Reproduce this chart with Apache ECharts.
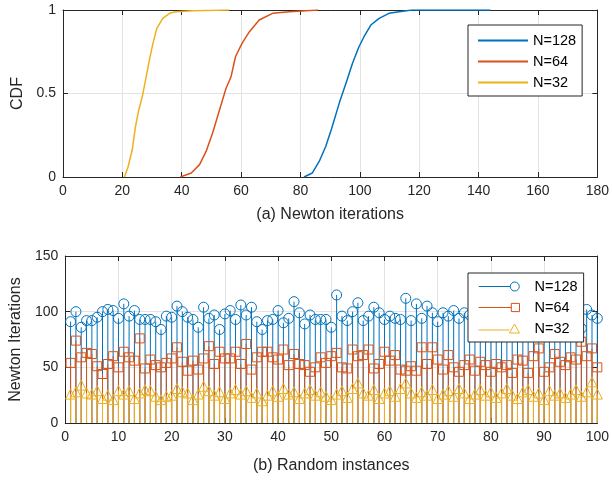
<!DOCTYPE html>
<html>
<head>
<meta charset="utf-8">
<script src="https://cdn.jsdelivr.net/npm/echarts@6/dist/echarts.min.js"></script>
<style>
  html, body { margin: 0; padding: 0; background: #fff; }
  #chart { width: 612px; height: 480px; }
</style>
</head>
<body>
<div id="chart"></div>
<script>
// ---- (a) empirical CDF of Newton iteration counts ----
const cdf128X = [81.2, 84, 86.3, 88.5, 90.5, 93.2, 95.3, 97.5, 99.7, 101.4, 103.7, 106.5, 109.8, 113.2, 117.6, 144];
const cdf128Y = [0, 0.024, 0.093, 0.183, 0.29, 0.45, 0.56, 0.68, 0.78, 0.84, 0.91, 0.95, 0.98, 0.99, 1, 1];
const cdf64X = [39.5, 43.2, 46, 48.2, 50.4, 52.7, 54.9, 56.6, 58.1, 60.3, 62.8, 66.1, 70.6, 76.2, 86];
const cdf64Y = [0, 0.024, 0.074, 0.153, 0.263, 0.40, 0.53, 0.60, 0.72, 0.80, 0.87, 0.94, 0.98, 0.99, 1];
const cdf32X = [20.7, 21.9, 23.3, 24.4, 25.5, 26.7, 27.8, 29.1, 30.3, 31.6, 33.6, 35.9, 38.1, 43.7, 56];
const cdf32Y = [0, 0.06, 0.16, 0.30, 0.40, 0.48, 0.58, 0.70, 0.80, 0.89, 0.95, 0.98, 0.99, 0.995, 1];

// ---- (b) Newton iterations per random instance ----
const instances = Array.from({ length: 100 }, (_, k) => k + 1);
const iters128 = [
  91, 100, 86, 92, 92, 95, 100, 102, 101, 94,
  107, 96, 101, 93, 93, 93, 91, 84, 96, 95,
  105, 100, 95, 93, 86, 104, 94, 97, 84, 98,
  101, 93, 106, 97, 104, 91, 84, 92, 93, 101,
  90, 94, 109, 99, 89, 97, 93, 93, 93, 86,
  115, 96, 92, 100, 108, 92, 96, 104, 99, 93,
  96, 94, 93, 112, 92, 107, 94, 105, 99, 91,
  99, 96, 101, 94, 99, 97, 93, 102, 95, 99,
  91, 104, 96, 93, 100, 98, 94, 106, 92, 97,
  101, 95, 99, 93, 96, 102, 85, 102, 97, 94
];
const iters64 = [
  54, 74, 59, 63, 62, 51, 44, 53, 60, 50,
  64, 59, 56, 76, 49, 57, 52, 50, 54, 58,
  68, 55, 47, 56, 48, 58, 69, 53, 64, 58,
  58, 64, 53, 71, 48, 59, 64, 64, 59, 57,
  66, 52, 62, 53, 52, 46, 50, 59, 54, 60,
  63, 50, 49, 66, 60, 61, 66, 49, 53, 64,
  56, 61, 48, 47, 51, 47, 68, 53, 68, 57,
  48, 61, 50, 46, 52, 57, 47, 55, 52, 46,
  53, 50, 52, 45, 57, 56, 45, 60, 67, 46,
  50, 62, 55, 52, 59, 57, 73, 60, 67, 50
];
const iters32 = [
  26, 28, 34, 27, 26, 29, 22, 25, 21, 29,
  26, 29, 22, 27, 30, 29, 24, 21, 24, 25,
  31, 28, 27, 21, 26, 33, 29, 25, 28, 22,
  27, 30, 26, 29, 23, 27, 20, 25, 29, 24,
  31, 26, 28, 22, 27, 30, 25, 28, 24, 21,
  26, 29, 23, 31, 36, 27, 25, 30, 22, 27,
  29, 24, 31, 36, 27, 23, 28, 25, 30, 22,
  26, 29, 24, 31, 27, 22, 26, 30, 25, 28,
  23, 27, 31, 25, 22, 28, 30, 24, 27, 21,
  29, 25, 27, 23, 26, 30, 24, 28, 37, 26
];

const names = ['N=128', 'N=64', 'N=32'];
const colors = ['#0072BD', '#D95319', '#EDB120'];

const FONT = '"Liberation Sans", Arial, Helvetica, sans-serif';
const AX = '#262626';
const GRIDC = '#e3e3e3';

function pairs(xs, ys) { return xs.map((x, k) => [x, ys[k]]); }

function mainX(gridIndex, max, interval, name, gap) {
  return {
    type: 'value', gridIndex, min: 0, max, interval, position: 'bottom',
    axisLine: { show: true, onZero: false, lineStyle: { color: AX, width: 1 } },
    axisTick: { show: true, inside: true, length: 5, lineStyle: { color: AX } },
    axisLabel: { color: AX, fontSize: 14, fontFamily: FONT, margin: 7 },
    splitLine: { show: true, lineStyle: { color: GRIDC, width: 1 } },
    name, nameLocation: 'middle', nameGap: gap,
    nameTextStyle: { color: AX, fontSize: 16, fontFamily: FONT }
  };
}
function boxX(gridIndex, max, interval) {
  return {
    type: 'value', gridIndex, min: 0, max, interval, position: 'top',
    axisLine: { show: true, onZero: false, lineStyle: { color: AX, width: 1 } },
    axisTick: { show: true, inside: true, length: 5, lineStyle: { color: AX } },
    axisLabel: { show: false }, splitLine: { show: false }
  };
}
function mainY(gridIndex, max, interval, name, gap) {
  return {
    type: 'value', gridIndex, min: 0, max, interval, position: 'left',
    axisLine: { show: true, onZero: false, lineStyle: { color: AX, width: 1 } },
    axisTick: { show: true, inside: true, length: 5, lineStyle: { color: AX } },
    axisLabel: { color: AX, fontSize: 14, fontFamily: FONT, margin: 7 },
    splitLine: { show: true, lineStyle: { color: GRIDC, width: 1 } },
    name, nameLocation: 'middle', nameGap: gap, nameRotate: 90,
    nameTextStyle: { color: AX, fontSize: 16, fontFamily: FONT }
  };
}
function boxY(gridIndex, max, interval) {
  return {
    type: 'value', gridIndex, min: 0, max, interval, position: 'right',
    axisLine: { show: true, onZero: false, lineStyle: { color: AX, width: 1 } },
    axisTick: { show: true, inside: true, length: 5, lineStyle: { color: AX } },
    axisLabel: { show: false }, splitLine: { show: false }
  };
}

// stem line from 0 up to each value
function stemSeries(name, color, values) {
  return {
    type: 'custom', name, xAxisIndex: 2, yAxisIndex: 2,
    data: instances.map((x, k) => [x, values[k]]),
    renderItem: function (params, api) {
      const p0 = api.coord([api.value(0), 0]);
      const p1 = api.coord([api.value(0), api.value(1)]);
      return {
        type: 'line',
        shape: { x1: p0[0], y1: p0[1], x2: p1[0], y2: p1[1] },
        style: { stroke: color, lineWidth: 1 }
      };
    },
    clip: false
  };
}
function markerSeries(name, color, values, symbol, size) {
  return {
    type: 'scatter', name, xAxisIndex: 2, yAxisIndex: 2,
    data: instances.map((x, k) => [x, values[k]]),
    symbol, symbolSize: size,
    itemStyle: { color: 'transparent', borderColor: color, borderWidth: 1, opacity: 1 },
    clip: false
  };
}

const stemIcons = [
  'path://M0 4.5 L31.5 4.5 M40.5 4.5 A4.5 4.5 0 1 1 31.5 4.5 A4.5 4.5 0 1 1 40.5 4.5',
  'path://M0 4.5 L32 4.5 M32 0.5 L40 0.5 L40 8.5 L32 8.5 Z',
  'path://M0 6 L31 6 M31 9 L36 0 L41 9 Z'
];

const option = {
  backgroundColor: '#fff',
  animation: false,
  textStyle: { fontFamily: FONT },
  grid: [
    { left: 63, top: 10, width: 536, height: 167 },
    { left: 63, top: 256, width: 536, height: 167 }
  ],
  xAxis: [
    mainX(0, 180, 20, '(a) Newton iterations', 30),
    boxX(0, 180, 20),
    mainX(1, 100, 10, '(b) Random instances', 35),
    boxX(1, 100, 10)
  ],
  yAxis: [
    mainY(0, 1, 0.5, 'CDF', 32),
    boxY(0, 1, 0.5),
    mainY(1, 150, 50, 'Newton Iterations', 32),
    boxY(1, 150, 50)
  ],
  legend: [
    {
      orient: 'vertical', left: 468, top: 25,
      padding: [5, 6, 3, 10], itemGap: 0, itemWidth: 50, itemHeight: 2,
      backgroundColor: '#fff', borderColor: AX, borderWidth: 1, borderRadius: 0,
      textStyle: { color: '#000', fontSize: 14.5, fontFamily: FONT, lineHeight: 21 },
      selectedMode: false,
      data: names.map((n, k) => ({ name: n, icon: 'rect', itemStyle: { color: colors[k], borderWidth: 0 } }))
    },
    {
      orient: 'vertical', left: 468, top: 273,
      padding: [3, 6, 3, 10], itemGap: 0, itemWidth: 41, itemHeight: 9,
      backgroundColor: '#fff', borderColor: AX, borderWidth: 1, borderRadius: 0,
      textStyle: { color: '#000', fontSize: 14.5, fontFamily: FONT, lineHeight: 21, padding: [0, 0, 0, 10] },
      selectedMode: false,
      data: names.map((n, k) => ({
        name: n, icon: stemIcons[k],
        itemStyle: { color: 'transparent', borderColor: colors[k], borderWidth: 1 }
      }))
    }
  ],
  series: [
    { type: 'line', name: names[0], xAxisIndex: 0, yAxisIndex: 0, data: pairs(cdf128X, cdf128Y),
      showSymbol: false, lineStyle: { color: colors[0], width: 1.5 }, itemStyle: { color: colors[0] } },
    { type: 'line', name: names[1], xAxisIndex: 0, yAxisIndex: 0, data: pairs(cdf64X, cdf64Y),
      showSymbol: false, lineStyle: { color: colors[1], width: 1.5 }, itemStyle: { color: colors[1] } },
    { type: 'line', name: names[2], xAxisIndex: 0, yAxisIndex: 0, data: pairs(cdf32X, cdf32Y),
      showSymbol: false, lineStyle: { color: colors[2], width: 1.5 }, itemStyle: { color: colors[2] } },

    stemSeries(names[0], colors[0], iters128),
    markerSeries(names[0], colors[0], iters128, 'circle', 10),
    stemSeries(names[1], colors[1], iters64),
    markerSeries(names[1], colors[1], iters64, 'rect', 9),
    stemSeries(names[2], colors[2], iters32),
    markerSeries(names[2], colors[2], iters32, 'triangle', 10)
  ]
};

const chart = echarts.init(document.getElementById('chart'), null, { renderer: 'canvas' });
chart.setOption(option);
</script>
</body>
</html>
